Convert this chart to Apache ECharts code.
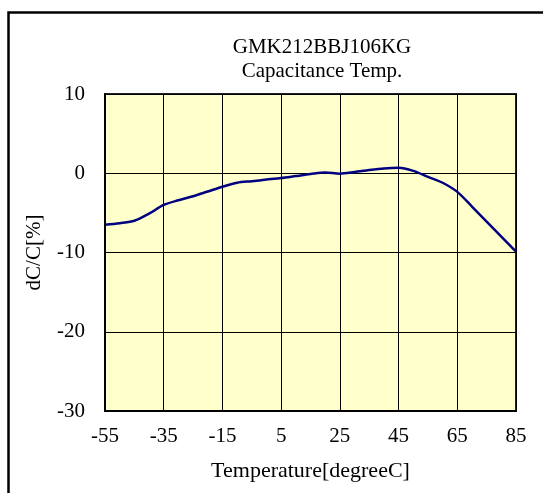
<!DOCTYPE html>
<html>
<head>
<meta charset="utf-8">
<script src="https://cdn.jsdelivr.net/npm/echarts@6/dist/echarts.min.js"></script>
<style>
  html, body { margin: 0; padding: 0; background: #fff; }
  #chart { width: 543px; height: 493px; }
</style>
</head>
<body>
<div id="chart"></div>
<script>
// temperature (degC) and capacitance change (%)
const temps = [-55, -50, -45, -40, -35, -30, -25, -20, -15, -10, -5, 0, 5, 10, 15,
  20, 25, 30, 35, 40, 45, 50, 55, 60, 65, 70, 75, 80, 85];
const dcc = [-6.5, -6.3, -6.0, -5.1, -4.0, -3.4, -2.9, -2.3, -1.7, -1.2, -1.0, -0.8, -0.6, -0.35, -0.1,
  0.1, -0.05, 0.15, 0.4, 0.6, 0.68, 0.3, -0.45, -1.2, -2.35, -4.2, -6.1, -8.0, -9.9];
const titleLines = ['GMK212BBJ106KG', 'Capacitance Temp.'];

const font = 'Liberation Serif, Times New Roman, serif';
const chart = echarts.init(document.getElementById('chart'));

chart.setOption({
  animation: false,
  backgroundColor: '#fff',
  title: {
    text: titleLines.join('\n'),
    left: 317,
    top: 31,
    textAlign: 'center',
    textStyle: { fontFamily: font, fontSize: 21, fontWeight: 'normal', color: '#000', lineHeight: 23.5 }
  },
  graphic: [{
    type: 'rect',
    shape: { x: 8.5, y: 12.5, width: 600, height: 600 },
    style: { fill: 'none', stroke: '#000', lineWidth: 2.5 },
    silent: true
  }],
  grid: {
    left: 105, right: 27, top: 94, bottom: 82,
    show: true,
    backgroundColor: '#FFFFCC',
    borderColor: '#222',
    borderWidth: 2
  },
  xAxis: {
    type: 'value',
    min: -55, max: 85, interval: 20,
    name: 'Temperature[degreeC]',
    nameLocation: 'middle',
    nameGap: 49,
    nameTextStyle: { fontFamily: font, fontSize: 22, color: '#000' },
    axisLine: { show: true, onZero: false, lineStyle: { color: '#000', width: 2 } },
    axisTick: { show: false },
    axisLabel: { margin: 15, fontFamily: font, fontSize: 21, color: '#000' },
    splitLine: { show: true, lineStyle: { color: '#000', width: 1 } }
  },
  yAxis: {
    type: 'value',
    min: -30, max: 10, interval: 10,
    name: 'dC/C[%]',
    nameLocation: 'middle',
    nameGap: 60,
    nameTextStyle: { fontFamily: font, fontSize: 21, color: '#000' },
    axisLine: { show: true, onZero: false, lineStyle: { color: '#000', width: 2 } },
    axisTick: { show: false },
    axisLabel: { margin: 20, fontFamily: font, fontSize: 21, color: '#000' },
    splitLine: { show: true, lineStyle: { color: '#000', width: 1 } }
  },
  series: [{
    type: 'line',
    data: temps.map((t, i) => [t, dcc[i]]),
    showSymbol: false,
    smooth: 0.3,
    lineStyle: { color: '#000080', width: 2.5 },
    clip: true
  }]
});
</script>
</body>
</html>
